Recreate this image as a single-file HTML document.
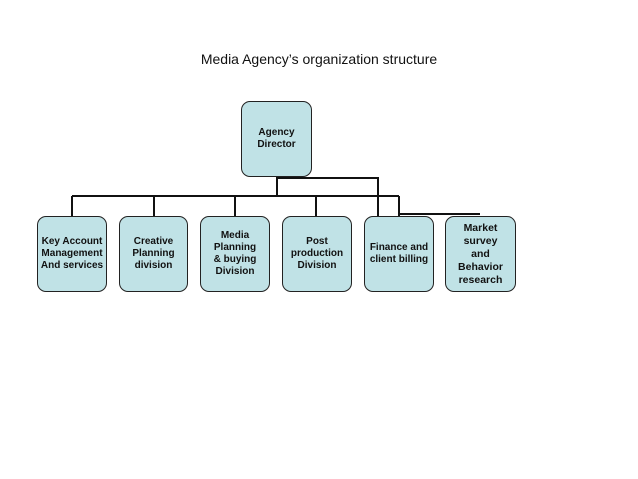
<!DOCTYPE html>
<html><head><style>
body{margin:0;background:#fff;width:638px;height:479px;overflow:hidden;font-family:"Liberation Sans",sans-serif}
.t{position:absolute;left:0;width:638px;top:51px;text-align:center;font-size:14px;color:#111}
.b{position:absolute;background:#c0e2e6;border:1.5px solid #222;border-radius:9px;box-sizing:border-box;display:flex;align-items:center;justify-content:center;text-align:center;font-size:10px;font-weight:bold;line-height:12px;color:#111}
</style></head><body>
<div class="t">Media Agency’s organization structure</div>
<svg width="638" height="479" style="position:absolute;left:0;top:0" fill="none" stroke="#111" stroke-width="2">
<path d="M277 177V196M72 196H399M72 196V216M154 196V216M235 196V216M316 196V216M399 196V216M277 178H378V216M399 214H480"/>
</svg>
<div class="b" style="left:241px;top:101px;width:71px;height:76px">Agency<br>Director</div>
<div class="b" style="left:37px;top:216px;width:70px;height:76px">Key Account<br>Management<br>And services</div>
<div class="b" style="left:119px;top:216px;width:69px;height:76px">Creative<br>Planning<br>division</div>
<div class="b" style="left:200px;top:216px;width:70px;height:76px">Media Planning<br>&amp; buying<br>Division</div>
<div class="b" style="left:282px;top:216px;width:70px;height:76px">Post<br>production<br>Division</div>
<div class="b" style="left:364px;top:216px;width:70px;height:76px">Finance and<br>client billing</div>
<div class="b" style="left:445px;top:216px;width:71px;height:76px;font-size:10.5px;line-height:13px">Market survey<br>and<br>Behavior<br>research</div>
</body></html>
